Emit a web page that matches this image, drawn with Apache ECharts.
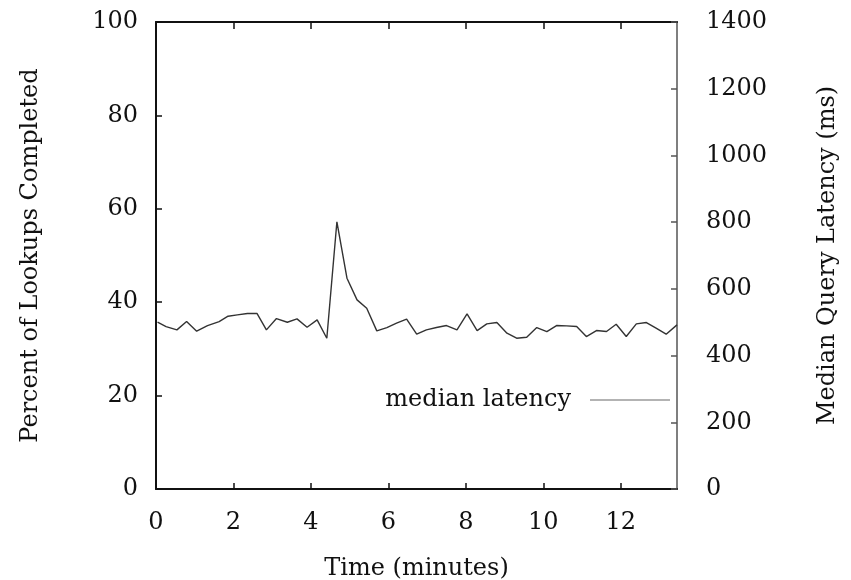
<!DOCTYPE html>
<html>
<head>
<meta charset="utf-8">
<script src="https://cdn.jsdelivr.net/npm/echarts@6/dist/echarts.min.js"></script>
<style>
html,body{margin:0;padding:0;background:#fff;}
#chart{width:851px;height:580px;}
</style>
</head>
<body>
<div id="chart"></div>
<script>
// Time in minutes
var timeMinutes = [0.04,0.26,0.54,0.79,1.05,1.33,1.63,1.86,2.10,2.36,2.61,2.85,3.11,3.39,3.64,3.90,4.16,4.41,4.67,4.93,5.19,5.44,5.70,5.96,6.21,6.47,6.73,6.98,7.24,7.50,7.77,8.03,8.29,8.54,8.80,9.06,9.31,9.57,9.83,10.09,10.34,10.60,10.86,11.11,11.37,11.63,11.88,12.14,12.40,12.66,12.91,13.17,13.45];
// Median query latency (ms)
var latencyMs = [500,487,477,502,473,490,502,518,522,526,526,477,511,500,510,485,507,452,801,632,567,542,474,484,497,509,464,477,484,490,477,525,475,495,499,467,452,455,484,472,490,489,487,457,475,472,494,457,495,499,482,464,492];
var seriesName = 'median latency';
var xTitle = 'Time (minutes)';
var yLeftTitle = 'Percent of Lookups Completed';
var yRightTitle = 'Median Query Latency (ms)';

var pts = timeMinutes.map(function(t,i){return [t, latencyMs[i]];});
var font = 'DejaVu Serif';
var txt = {fontFamily: font, fontSize: 24, color: '#111'};

var chart = echarts.init(document.getElementById('chart'));
chart.setOption({
  animation: false,
  backgroundColor: '#fff',
  grid: {left: 156, right: 174, top: 22, bottom: 91, outerBoundsMode: 'none', containLabel: false},
  legend: {
    data: [{name: seriesName, icon: 'rect'}],
    align: 'right',
    right: 181,
    top: 388,
    padding: 0,
    itemWidth: 80,
    itemHeight: 1.5,
    itemStyle: {color: '#9a9a9a'},
    textStyle: {fontFamily: font, fontSize: 24, color: '#111', padding: [0, 14, 0, 0]}
  },
  xAxis: [{
    type: 'value', min: 0, max: 13.45, interval: 2, position: 'bottom',
    name: xTitle, nameLocation: 'middle', nameGap: 68,
    nameTextStyle: txt,
    axisLine: {onZero: false, lineStyle: {color: '#111', width: 2}},
    axisTick: {show: true, inside: true, length: 6, lineStyle: {color: '#111', width: 1.5}},
    axisLabel: Object.assign({margin: 22, showMaxLabel: false}, txt),
    splitLine: {show: false}
  },{
    type: 'value', min: 0, max: 13.45, interval: 2, position: 'top',
    axisLine: {show: true, onZero: false, lineStyle: {color: '#111', width: 2}},
    axisTick: {show: true, inside: true, length: 7, interval: 0, lineStyle: {color: '#111', width: 1.5}},
    axisLabel: {show: true, showMaxLabel: false, color: 'rgba(0,0,0,0)', fontSize: 10},
    splitLine: {show: false}
  }],
  yAxis: [{
    type: 'value', min: 0, max: 100, interval: 20, position: 'left',
    name: yLeftTitle, nameLocation: 'middle', nameGap: 113, nameRotate: 90,
    nameTextStyle: txt,
    axisLine: {show: true, onZero: false, lineStyle: {color: '#111', width: 2}},
    axisTick: {show: true, inside: true, length: 6, lineStyle: {color: '#111', width: 1.5}},
    axisLabel: Object.assign({margin: 18}, txt),
    splitLine: {show: false}
  },{
    type: 'value', min: 0, max: 1400, interval: 200, position: 'right',
    name: yRightTitle, nameLocation: 'middle', nameGap: 139, nameRotate: 90,
    nameTextStyle: txt,
    axisLine: {show: true, onZero: false, lineStyle: {color: '#555', width: 1.5}},
    axisTick: {show: true, inside: true, length: 6, lineStyle: {color: '#555', width: 1.5}},
    axisLabel: Object.assign({margin: 29, formatter: function(v){return String(v);}}, txt),
    splitLine: {show: false}
  }],
  series: [{
    name: seriesName,
    type: 'line',
    xAxisIndex: 0,
    yAxisIndex: 1,
    data: pts,
    symbol: 'none',
    lineStyle: {color: '#333', width: 1.4},
    itemStyle: {color: '#9a9a9a'}
  }]
});
</script>
</body>
</html>
